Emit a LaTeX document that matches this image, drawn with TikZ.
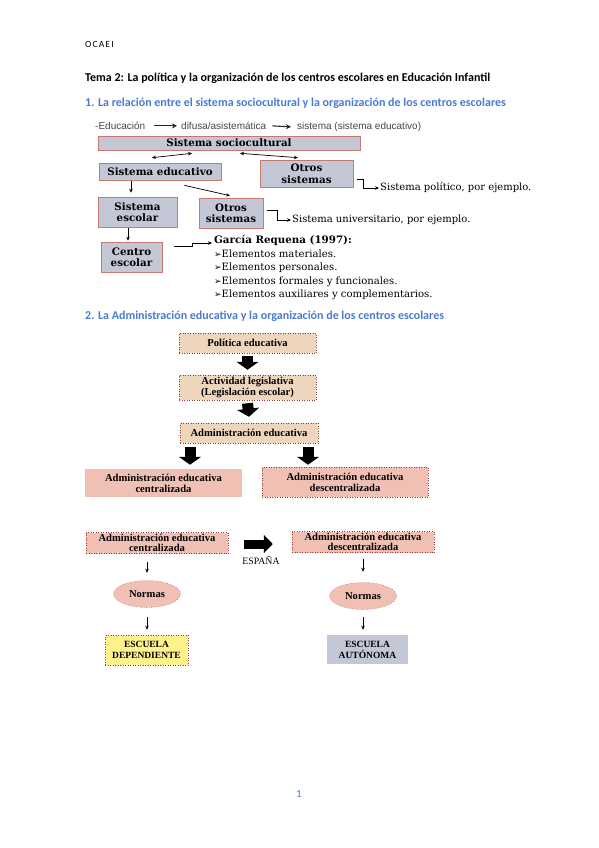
\documentclass[tikz,border=0pt]{standalone}
\usepackage{fontspec}
\setmainfont{Liberation Serif}
\newfontfamily\calfont{Carlito}
\newfontfamily\dvserif{DejaVu Serif}
\newfontfamily\dvsans{DejaVu Sans}
\newfontfamily\arfont{Liberation Sans}
\usetikzlibrary{arrows.meta,shapes.geometric}
\definecolor{headblue}{RGB}{74,123,208}
\definecolor{boxgray}{RGB}{196,199,214}
\definecolor{boxedge}{RGB}{200,120,110}
\definecolor{tan}{RGB}{238,214,188}
\definecolor{pinkbox}{RGB}{240,192,181}
\definecolor{yellowbox}{RGB}{255,242,140}
\definecolor{dotedge}{RGB}{150,60,50}
\definecolor{txtgray}{RGB}{70,70,70}
\begin{document}
\begin{tikzpicture}[x=1pt,y=-1pt,
  gbox/.style={draw=boxedge, line width=0.6pt, fill=boxgray, inner sep=0pt, align=center,
    font=\dvserif\bfseries\fontsize{10.3}{11.5}\selectfont},
  sbox/.style={draw=dotedge, dotted, line width=0.5pt, inner sep=0pt, align=center,
    font=\bfseries\fontsize{10.6}{11}\selectfont},
  ell/.style={ellipse, draw=dotedge, dotted, line width=0.5pt, fill=pinkbox, inner sep=0pt,
    font=\bfseries\fontsize{10.6}{11}\selectfont},
  thinarr/.style={-{Stealth[length=4pt,width=3.5pt]}, line width=0.7pt},
  medarr/.style={-{Stealth[length=5pt,width=5pt]}, line width=1.1pt, draw=black!85},
  dblarr/.style={{Stealth[length=4pt,width=3.5pt]}-{Stealth[length=4pt,width=3.5pt]}, line width=0.7pt},
  bigarr/.style={line width=11pt, -{Triangle[width=22pt,length=8pt]}},
  sidetxt/.style={anchor=west, inner sep=1pt, font=\dvserif\fontsize{10}{11}\selectfont},
  listtxt/.style={anchor=west, inner sep=0pt, font=\dvserif\fontsize{10.1}{11}\selectfont},
  etxt/.style={anchor=base west, inner sep=0pt, text=txtgray, font=\arfont\fontsize{10}{11}\selectfont}
]
\fill[white] (0,0) rectangle (599,848);
\useasboundingbox (0,0) rectangle (599,848);

% header texts
\node[anchor=west, inner sep=0pt, font=\calfont\fontsize{9.5}{10}\addfontfeature{LetterSpace=12}\selectfont] (ocaei) at (85,44) {OCAEI};
\node[anchor=west, inner sep=0pt, font=\calfont\bfseries\fontsize{12}{13}\selectfont] (title) at (85,78)
  {Tema 2: La política y la organización de los centros escolares en Educación Infantil};
\node[anchor=west, inner sep=0pt, text=headblue, font=\calfont\bfseries\fontsize{12}{13}\selectfont] (h1) at (85,103)
  {1. La relación entre el sistema sociocultural y la organización de los centros escolares};

% line of education
\node[etxt] (e1) at (95,129.5) {-Educación};
\node[etxt] (e2) at (181,129.5) {difusa/asistemática};
\node[etxt] (e3) at (297,129.5) {sistema (sistema educativo)};
\draw[medarr] ([xshift=9pt]e1.east) -- ([xshift=-4pt]e2.west);
\draw[medarr] ([xshift=6pt]e2.east) -- ([xshift=-6pt]e3.west);

% section 1 boxes
\node[gbox, minimum width=262pt, minimum height=14pt] (soc) at (229,143) {Sistema sociocultural};
\node[gbox, minimum width=122pt, minimum height=17pt] (educ) at (160,171.5) {Sistema educativo};
\node[gbox, minimum width=93pt, minimum height=27pt] (otrosR) at (306.5,173.5) {Otros\\sistemas};
\node[gbox, minimum width=79pt, minimum height=30pt] (escolar) at (137.5,212) {Sistema\\escolar};
\node[gbox, minimum width=64pt, minimum height=30pt] (otrosM) at (231,213) {Otros\\sistemas};
\node[gbox, minimum width=61pt, minimum height=30pt] (centro) at (131.5,257) {Centro\\escolar};

\draw[dblarr] ([shift={(-8,-5)}]educ.north) -- ([shift={(-37,3)}]soc.south);
\draw[dblarr] ([shift={(11,3)}]soc.south) -- ([shift={(-8.5,-2)}]otrosR.north);
\draw[thinarr] ([shift={(-37,5)}]educ.south east) -- ([shift={(-1,-2)}]otrosM.north);
\draw[thinarr] ([shift={(-29,1)}]educ.south) -- ([shift={(-6.5,-4)}]escolar.north);
\draw[thinarr] ([shift={(-9.5,1)}]escolar.south) -- ([shift={(-3.5,-1)}]centro.north);

% side texts
\node[sidetxt] (polit) at (379,188) {Sistema político, por ejemplo.};
\node[sidetxt] (univ) at (291,220) {Sistema universitario, por ejemplo.};
\node[anchor=west, inner sep=0pt, font=\dvserif\bfseries\fontsize{10.3}{11}\selectfont] (garcia) at (214,240) {García Requena (1997):};
\node[listtxt] (l1) at (214,254) {{\dvsans\bfseries\fontsize{9}{9}\selectfont ➢}Elementos materiales.};
\node[listtxt] (l2) at (214,268) {{\dvsans\bfseries\fontsize{9}{9}\selectfont ➢}Elementos personales.};
\node[listtxt] (l3) at (214,282) {{\dvsans\bfseries\fontsize{9}{9}\selectfont ➢}Elementos formales y funcionales.};
\node[listtxt] (l4) at (214,295) {{\dvsans\bfseries\fontsize{9}{9}\selectfont ➢}Elementos auxiliares y complementarios.};

\draw[thinarr] ([shift={(4,5.5)}]otrosR.east) -- ++(6,0) |- (polit.west);
\draw[thinarr] ([shift={(4,-3)}]otrosM.east) -- ++(10,0) |- (univ.west);
\draw[thinarr] ([shift={(12,-11)}]centro.east) -- ++(18,0) |- ([xshift=-2pt,yshift=-3pt]garcia.west);

% section 2
\node[anchor=west, inner sep=0pt, text=headblue, font=\calfont\bfseries\fontsize{12}{13}\selectfont] (h2) at (85,316)
  {2. La Administración educativa y la organización de los centros escolares};

\node[sbox, fill=tan, minimum width=137pt, minimum height=20pt] (pol) at (247.5,343) {Política educativa};
\node[sbox, fill=tan, minimum width=137pt, minimum height=25pt] (act) at (247.5,387.5) {Actividad legislativa\\(Legislación escolar)};
\node[sbox, fill=tan, minimum width=138pt, minimum height=20pt] (adm) at (249,433) {Administración educativa};
\node[sbox, fill=pinkbox, draw=none, minimum width=157pt, minimum height=28pt] (cen) at (163.5,483) {Administración educativa\\centralizada};
\node[sbox, fill=pinkbox, minimum width=166pt, minimum height=30pt] (des) at (345,482) {Administración educativa\\descentralizada};

\draw[bigarr] ([shift={(0,3)}]pol.south) -- ([shift={(0,-5)}]act.north);
\draw[bigarr] ([shift={(0,3)}]act.south) -- ([shift={(0,-6)}]adm.north);
\draw[bigarr] ([shift={(-59,4)}]adm.south) -- ([shift={(26.5,-4)}]cen.north);
\draw[bigarr] ([shift={(59,4)}]adm.south) -- ([shift={(-37,-2)}]des.north);

% bottom part
\node[sbox, fill=pinkbox, minimum width=142pt, minimum height=21pt, font=\bfseries\fontsize{10.6}{10.5}\selectfont] (cen2) at (157,543) {Administración educativa\\centralizada};
\node[sbox, fill=pinkbox, minimum width=142pt, minimum height=21pt, font=\bfseries\fontsize{10.6}{10.5}\selectfont] (des2) at (363,542) {Administración educativa\\descentralizada};
\node[ell, minimum width=67pt, minimum height=27pt] (norm1) at (147,594) {Normas};
\node[ell, minimum width=67pt, minimum height=27pt] (norm2) at (363,596) {Normas};
\node[sbox, fill=yellowbox, minimum width=83pt, minimum height=30pt, font=\bfseries\fontsize{9.5}{11}\selectfont] (dep) at (146.5,650) {ESCUELA\\DEPENDIENTE};
\node[sbox, fill=boxgray, draw=none, minimum width=81pt, minimum height=29pt, font=\bfseries\fontsize{9.5}{11}\selectfont] (aut) at (367.5,649.5) {ESCUELA\\AUTÓNOMA};
\node[inner sep=0pt, font=\fontsize{9.8}{10}\selectfont] (esp) at (261,560) {ESPAÑA};

\draw[line width=9pt, -{Triangle[width=18pt,length=9pt]}] ([shift={(16,1)}]cen2.east) -- ([shift={(-19,2)}]des2.west);

\draw[thinarr, line width=0.6pt] ([shift={(-10,8)}]cen2.south) -- ([shift={(0,-7.5)}]norm1.north);
\draw[thinarr, line width=0.6pt] ([shift={(0,9.5)}]norm1.south) -- ([shift={(0.5,-5)}]dep.north);
\draw[thinarr, line width=0.6pt] ([shift={(0,6)}]des2.south) -- ([shift={(0,-10.5)}]norm2.north);
\draw[thinarr, line width=0.6pt] ([shift={(0,7.5)}]norm2.south) -- ([shift={(-4.5,-5)}]aut.north);

% page number
\node[inner sep=0pt, text=headblue, font=\calfont\fontsize{11}{12}\selectfont] (pg) at (299,794) {1};
\end{tikzpicture}
\end{document}
